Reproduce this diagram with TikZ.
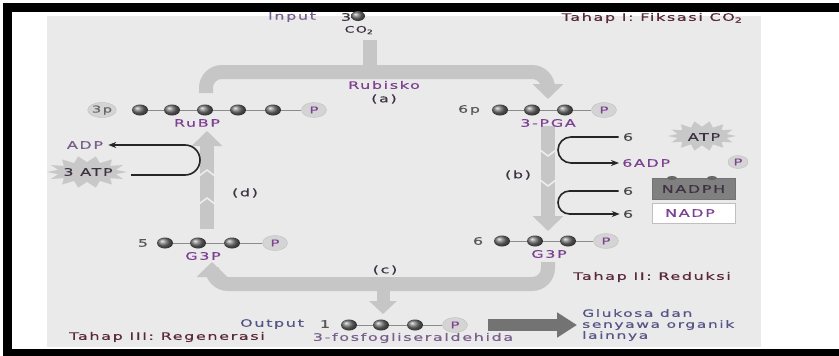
\documentclass[tikz,border=0pt]{standalone}
\usepackage{fontspec}
\newfontfamily\lbl[FakeStretch=1.55,LetterSpace=16,FakeBold=0.5]{DejaVu Sans}
\usetikzlibrary{arrows.meta,shapes.geometric}
\definecolor{panel}{RGB}{234,234,234}
\definecolor{band}{RGB}{198,198,198}
\definecolor{purp}{RGB}{125,65,145}
\definecolor{maroon}{RGB}{90,40,60}
\definecolor{darkt}{RGB}{60,50,65}
\definecolor{grayt}{RGB}{120,95,140}
\definecolor{bluet}{RGB}{85,85,135}
\definecolor{starfill}{RGB}{200,200,200}
\tikzset{
  lab/.style={font=\lbl\fontsize{10.3}{11}\selectfont, inner sep=0pt, text=darkt},
  ballnode/.style={ellipse, minimum width=16pt, minimum height=11pt, inner sep=0pt, shading=ball, ball color=black!55},
  pcirc/.style={ellipse, minimum width=25pt, minimum height=15pt, inner sep=0pt, fill=black!17, draw=black!25, font=\lbl\fontsize{9.5}{10}\selectfont, text=purp},
  bandarrow/.style={line width=14pt, draw=band, rounded corners=16pt, -{Triangle[length=15pt,width=30pt]}},
  bandline/.style={line width=14pt, draw=band, rounded corners=16pt},
  curv/.style={line width=1.6pt, draw=black!85, rounded corners=13pt},
  chain/.style={draw=black!45, line width=0.6pt}
}
\newcommand\starburst[4]{%
  \fill[starfill] plot[samples=29,domain=0:28,variable=\k]
   ({#1+#3*ifthenelse(mod(round(\k),2)==0,1,0.74)*cos(\k*360/28)},
    {#2+#4*ifthenelse(mod(round(\k),2)==0,1,0.62)*sin(\k*360/28)}) -- cycle;}
\begin{document}
\begin{tikzpicture}[x=1pt,y=-1pt]
\useasboundingbox (0,0) rectangle (839,356);
\fill[white] (0,0) rectangle (839,356);
\draw[line width=8.5pt] (7.5,7.5) rectangle (850,353);
\fill[panel] (47,16) rectangle (761,347);

% ---------- gray flow arrows ----------
\coordinate (co2top) at (370,40);
\coordinate (co2join) at (370,72);
\draw[bandline] (co2top) -- (co2join);
\coordinate (rubpup) at (206,93);
\coordinate (pgatip) at (548,99);
\draw[bandarrow] (rubpup) -- (206,72) -- (548,72) -- (pgatip);
\coordinate (bstart) at (548,126);
\coordinate (btip) at (548,231);
\draw[bandarrow] (bstart) -- (btip);
\coordinate (cstart) at (548,262);
\coordinate (ctip) at (212,262);
\draw[bandarrow] (cstart) -- (548,284) -- (212,284) -- (ctip);
\coordinate (outstart) at (383,284);
\coordinate (outtip) at (383,314);
\draw[line width=13pt, draw=band, -{Triangle[length=13pt,width=27pt]}] (outstart) -- (outtip);
\coordinate (dstart) at (207,229);
\coordinate (dtip) at (207,131);
\draw[bandarrow] (dstart) -- (dtip);
% faint chevrons
\foreach \yy in {170,198}{
  \draw[white!70!band, line width=1.5pt] (199,\yy+6) -- (207,\yy) -- (215,\yy+6);
}
\foreach \yy in {150,180}{
  \draw[white!70!band, line width=1.5pt] (540,\yy) -- (548,\yy+6) -- (556,\yy);
}

% ---------- top ----------
\node[lab, text=grayt] (input) at (292,17) {Input};
\node[lab] (n3) at (346,17) {3};
\node[ballnode, minimum width=14pt, minimum height=10pt] (co2ball) at (358,16) {};
\node[lab, font=\lbl\fontsize{9}{9}\selectfont] (co2) at (359,30) {CO\textsubscript{2}};
\node[lab, text=maroon] (tahap1) at (652,18) {Tahap I: Fiksasi CO\textsubscript{2}};
\node[lab, text=purp] (rubisko) at (384,85) {Rubisko};
\node[lab] (la) at (384,99) {(a)};

% ---------- RuBP row ----------
\node[pcirc, text=black!60] (p3) at (102,110) {3p};
\foreach \i/\xx in {1/140,2/172,3/205,4/238,5/273}{
  \node[ballnode] (rb\i) at (\xx,110) {};
}
\node[pcirc] (rbp) at (314,110) {P};
\foreach \a/\b in {rb1/rb2,rb2/rb3,rb3/rb4,rb4/rb5,rb5/rbp}{
  \draw[chain] (\a.east) -- (\b.west);
}
\node[lab, text=purp] (rubp) at (197,123) {RuBP};

% ---------- 3-PGA row ----------
\node[lab, text=black!65] (sixp) at (469,110) {6p};
\foreach \i/\xx in {1/500,2/532,3/565}{
  \node[ballnode] (pg\i) at (\xx,110) {};
}
\node[pcirc] (pgp) at (604,110) {P};
\foreach \a/\b in {pg1/pg2,pg2/pg3,pg3/pgp}{
  \draw[chain] (\a.east) -- (\b.west);
}
\node[lab, text=purp] (pga) at (548,123) {3-PGA};

% ---------- (b) side ----------
\node[lab] (lb) at (518,175) {(b)};
\starburst{702}{136}{34}{15}
\node[lab] (atp) at (704,137) {ATP};
\node[lab, text=black!70] (six1) at (628,137) {6};
\node[lab, text=purp, anchor=west] (sixadp) at (622,163) {6ADP};
\node[pcirc, minimum width=20pt, minimum height=13pt] (padp) at (738,162) {P};
\draw[curv, -{Stealth[length=8pt,width=6pt]}] ([xshift=-4pt]six1.west) -- (558,137) -- (558,163) -- ([xshift=-3pt]sixadp.west);
\node[fill=black!50, draw=black!55, minimum width=83pt, minimum height=21pt, inner sep=0pt] (nadphbox) at (693.5,188.5) {};
\foreach \xx in {672,712}{ \fill[black!60] (\xx,178) ellipse (5pt and 2pt); }
\node[lab, text=darkt] (nadph) at (693.5,189) {NADPH};
\node[fill=white, draw=black!25, minimum width=83pt, minimum height=20pt, inner sep=0pt] (nadpbox) at (693.5,213) {};
\node[lab, text=purp] (nadp) at (690,213) {NADP};
\node[lab, text=black!70] (six2) at (628,191) {6};
\node[lab, text=black!70] (six3) at (628,214) {6};
\draw[curv, rounded corners=11.5pt, -{Stealth[length=8pt,width=6pt]}] ([xshift=-4pt]six2.west) -- (558,191) -- (558,214) -- ([xshift=-3pt]six3.west);

% ---------- left side ----------
\node[lab, text=grayt] (adp) at (85,145) {ADP};
\starburst{87}{172}{40}{16}
\node[lab] (atp3) at (88,172) {3 ATP};
\draw[curv, rounded corners=15pt, -{Stealth[length=8pt,width=6pt]}] (131,175) -- (200,175) -- (200,145) -- ([xshift=5pt]adp.east);
\node[lab] (ld) at (245,193) {(d)};

% ---------- G3P rows ----------
\node[lab, text=black!65] (five) at (143,243) {5};
\foreach \i/\xx in {1/165,2/198,3/232}{
  \node[ballnode] (gl\i) at (\xx,243) {};
}
\node[pcirc] (glp) at (275,243) {P};
\foreach \a/\b in {gl1/gl2,gl2/gl3,gl3/glp}{
  \draw[chain] (\a.east) -- (\b.west);
}
\node[lab, text=purp] (g3pl) at (203,256) {G3P};
\node[lab, text=black!65] (sixg) at (478,241) {6};
\foreach \i/\xx in {1/502,2/535,3/568}{
  \node[ballnode] (gr\i) at (\xx,241) {};
}
\node[pcirc] (grp) at (606,241) {P};
\foreach \a/\b in {gr1/gr2,gr2/gr3,gr3/grp}{
  \draw[chain] (\a.east) -- (\b.west);
}
\node[lab, text=purp] (g3pr) at (549,254) {G3P};
\node[lab] (lc) at (385,270) {(c)};
\node[lab, text=maroon] (tahap2) at (652,277) {Tahap II: Reduksi};

% ---------- output ----------
\node[lab, text=bluet] (output) at (272,324) {Output};
\node[lab, text=black!65] (one) at (325,324) {1};
\foreach \i/\xx in {1/349,2/381,3/415}{
  \node[ballnode] (ob\i) at (\xx,325) {};
}
\node[pcirc] (op) at (455,325) {P};
\foreach \a/\b in {ob1/ob2,ob2/ob3,ob3/op}{
  \draw[chain] (\a.east) -- (\b.west);
}
\node[lab, text=grayt] (fosfo) at (413,338) {3-fosfogliseraldehida};
\node[lab, text=maroon] (tahap3) at (167,337) {Tahap III: Regenerasi};
\coordinate (bigstart) at (488,325);
\coordinate (bigtip) at (577,325);
\draw[line width=12pt, draw=black!55, -{Triangle[length=20pt,width=24pt]}] (bigstart) -- (bigtip);
\node[lab, text=bluet, anchor=north west, align=left, font=\lbl\fontsize{10}{11}\selectfont] (gluk) at (582,309) {Glukosa dan\\senyawa organik\\lainnya};
\end{tikzpicture}
\end{document}
